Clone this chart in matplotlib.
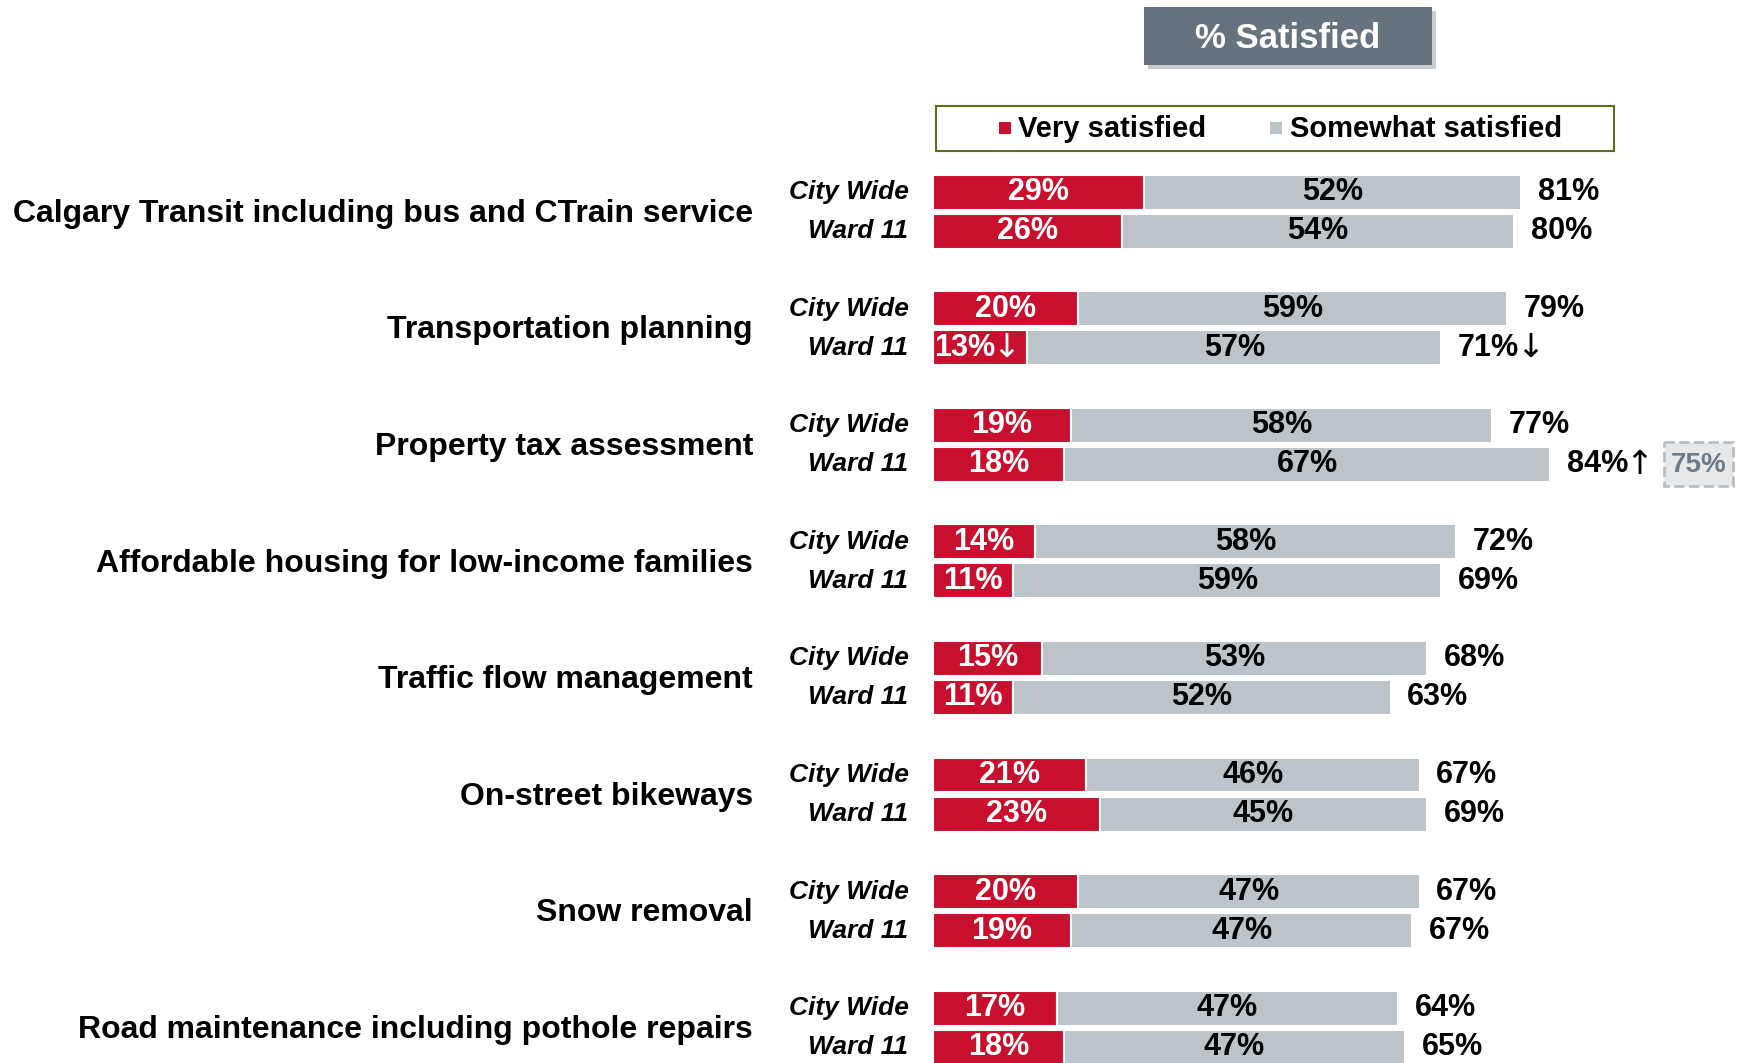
import matplotlib.pyplot as plt
from matplotlib.patches import Rectangle, FancyBboxPatch

plt.rcParams['font.family'] = ['Liberation Sans', 'DejaVu Sans']

# DATA
categories = ['Calgary Transit including bus and CTrain service',
              'Transportation planning',
              'Property tax assessment',
              'Affordable housing for low-income families',
              'Traffic flow management',
              'On-street bikeways',
              'Snow removal',
              'Road maintenance including pothole repairs']
groups = ['City Wide', 'Ward 11']

city_very = [29, 20, 19, 14, 15, 21, 20, 17]
city_some = [52, 59, 58, 58, 53, 46, 47, 47]
city_total = [81, 79, 77, 72, 68, 67, 67, 64]

ward_very = [26, 13, 18, 11, 11, 23, 19, 18]
ward_some = [54, 57, 67, 59, 52, 45, 47, 47]
ward_total = [80, 71, 84, 69, 63, 69, 67, 65]

# significance arrows (ward vs previous / city)
ward_very_arrow = {1: '\u2193'}
ward_total_arrow = {1: '\u2193', 2: '\u2191'}
prev_note = {2: '75%'}   # ward row -> previous-year value shown in box

RED = '#C8102E'
GREY = '#BCC3C9'

# FIGURE
fig = plt.figure(figsize=(17.5, 10.63), dpi=100)
ax = fig.add_axes([0, 0, 1, 1])
ax.set_xlim(-128.5, 112.5)
ax.set_ylim(7.47, -1.647)
ax.axis('off')

H = 0.3
OFF = 0.335


def add_arrow(txt, arrow, color):
    ax.annotate(arrow, xy=(1, 0.5), xycoords=txt, xytext=(-2, 0),
                textcoords='offset points', ha='left', va='center',
                color=color, fontsize=24, family='DejaVu Sans')


def draw_row(y, very, some, total, label, very_arrow=None, total_arrow=None):
    ax.barh(y, very, height=H, color=RED, edgecolor='white', linewidth=1.5)
    ax.barh(y, some, left=very, height=H, color=GREY, edgecolor='white', linewidth=1.5)
    if very_arrow:
        t = ax.text(0.1, y, '%d%%' % very, ha='left', va='center', color='white',
                    fontsize=22, fontweight='bold')
        add_arrow(t, very_arrow, 'white')
    else:
        ax.text(very / 2, y, '%d%%' % very, ha='center', va='center', color='white',
                fontsize=22, fontweight='bold')
    ax.text(very + some / 2, y, '%d%%' % some, ha='center', va='center',
            color='black', fontsize=22, fontweight='bold')
    t = ax.text(very + some + 2.3, y, '%d%%' % total, ha='left', va='center',
                color='black', fontsize=22, fontweight='bold')
    if total_arrow:
        add_arrow(t, total_arrow, 'black')
    ax.text(-3.4, y, label, ha='right', va='center', fontsize=19,
            fontweight='bold', fontstyle='italic')


for i, cat in enumerate(categories):
    y0 = i
    y1 = i + OFF
    draw_row(y0, city_very[i], city_some[i], city_total[i], groups[0])
    draw_row(y1, ward_very[i], ward_some[i], ward_total[i], groups[1],
             ward_very_arrow.get(i), ward_total_arrow.get(i))
    ax.text(-24.8, i + OFF / 2 + 0.02, cat, ha='right', va='center', fontsize=23,
            fontweight='bold')
    if i in prev_note:
        x = ward_very[i] + ward_some[i] + 15.7
        ax.add_patch(Rectangle((x, y1 - 0.19), 9.4, 0.38, facecolor='#E6E8EA',
                               edgecolor='#B8BEC4', linestyle='--', linewidth=2))
        ax.text(x + 4.7, y1 + 0.01, prev_note[i], ha='center', va='center',
                color='#6E7B86', fontsize=20, fontweight='bold')

# title box
fig.patches.append(FancyBboxPatch((1148 / 1750, 1 - 69 / 1063), 288 / 1750, 58 / 1063,
                                  boxstyle='square,pad=0', transform=fig.transFigure,
                                  facecolor='#C9CCCF', edgecolor='none', zorder=1))
fig.patches.append(FancyBboxPatch((1144 / 1750, 1 - 65 / 1063), 288 / 1750, 58 / 1063,
                                  boxstyle='square,pad=0', transform=fig.transFigure,
                                  facecolor='#66727D', edgecolor='none', zorder=2))
fig.text(1288 / 1750, 1 - 39 / 1063, '% Satisfied', ha='center', va='center',
         color='white', fontsize=25, fontweight='bold', zorder=3)

# legend box
fig.patches.append(Rectangle((936 / 1750, 1 - 151 / 1063), 678 / 1750, 45 / 1063,
                             transform=fig.transFigure, facecolor='white',
                             edgecolor='#5E6E1E', linewidth=1.5))
fig.patches.append(Rectangle((999 / 1750, 1 - 134 / 1063), 12 / 1750, 12 / 1063,
                             transform=fig.transFigure, facecolor=RED, edgecolor='none'))
fig.text(1018 / 1750, 1 - 129 / 1063, 'Very satisfied', ha='left', va='center',
         fontsize=21, fontweight='bold')
fig.patches.append(Rectangle((1270 / 1750, 1 - 134 / 1063), 12 / 1750, 12 / 1063,
                             transform=fig.transFigure, facecolor=GREY, edgecolor='none'))
fig.text(1290 / 1750, 1 - 129 / 1063, 'Somewhat satisfied', ha='left', va='center',
         fontsize=21, fontweight='bold')

fig.savefig('out.png', dpi=100)
